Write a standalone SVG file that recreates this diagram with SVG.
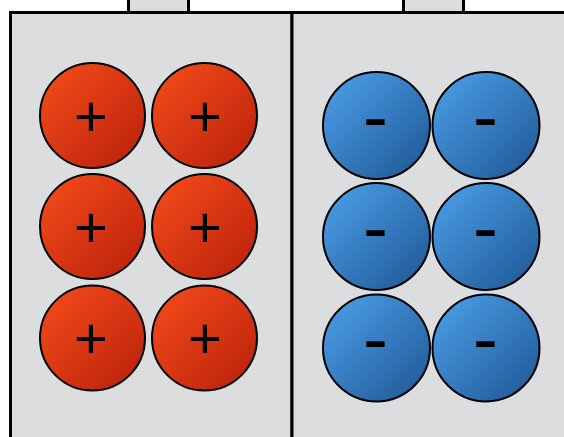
<svg xmlns="http://www.w3.org/2000/svg" width="564" height="437" viewBox="0 0 564 437">
<defs>
<linearGradient id="red" x1="0" y1="0" x2="1" y2="1">
<stop offset="0" stop-color="#f74d1b"/>
<stop offset="1" stop-color="#b8200a"/>
</linearGradient>
<linearGradient id="blue" x1="0" y1="0" x2="1" y2="1">
<stop offset="0" stop-color="#4ea2ec"/>
<stop offset="1" stop-color="#1d5592"/>
</linearGradient>
<style>
.box{fill:#dcdddf;stroke:#000;stroke-width:3}
.pos{fill:url(#red);stroke:#000;stroke-width:2}
.neg{fill:url(#blue);stroke:#000;stroke-width:2}
.p{font-family:"Liberation Sans",Arial,sans-serif;font-size:58px;text-anchor:middle;fill:#000}
.m{font-family:"Liberation Sans",Arial,sans-serif;font-size:48px;font-weight:bold;text-anchor:middle;fill:#000}
</style>
</defs>
<g id="cell-left">
<rect class="box" x="128.5" y="-10" width="60" height="22.5"/>
<rect class="box" x="10.5" y="12.5" width="281.5" height="440"/>
</g>
<g id="cell-right">
<rect class="box" x="403.5" y="-10" width="60" height="22.5"/>
<rect class="box" x="292" y="12.5" width="290" height="440"/>
</g>
<g id="pos1"><circle class="pos" cx="92.5" cy="115.5" r="52.5"/><text class="p" x="91" y="135.5">+</text></g>
<g id="pos2"><circle class="pos" cx="204.5" cy="115.5" r="52.5"/><text class="p" x="205" y="135.5">+</text></g>
<g id="pos3"><circle class="pos" cx="92.5" cy="226.5" r="52.5"/><text class="p" x="91" y="246.5">+</text></g>
<g id="pos4"><circle class="pos" cx="204.5" cy="226.5" r="52.5"/><text class="p" x="205" y="246.5">+</text></g>
<g id="pos5"><circle class="pos" cx="92.5" cy="338" r="52.5"/><text class="p" x="91" y="358">+</text></g>
<g id="pos6"><circle class="pos" cx="204.5" cy="338" r="52.5"/><text class="p" x="205" y="358">+</text></g>
<g id="neg1"><circle class="neg" cx="376.5" cy="125.5" r="53.5"/><text class="m" x="375.5" y="135" transform="translate(375.5 0) scale(1.5 1) translate(-375.5 0)">-</text></g>
<g id="neg2"><circle class="neg" cx="486" cy="125.5" r="53.5"/><text class="m" x="485.5" y="135" transform="translate(485.5 0) scale(1.5 1) translate(-485.5 0)">-</text></g>
<g id="neg3"><circle class="neg" cx="376.5" cy="236.5" r="53.5"/><text class="m" x="375.5" y="246" transform="translate(375.5 0) scale(1.5 1) translate(-375.5 0)">-</text></g>
<g id="neg4"><circle class="neg" cx="486" cy="236.5" r="53.5"/><text class="m" x="485.5" y="246" transform="translate(485.5 0) scale(1.5 1) translate(-485.5 0)">-</text></g>
<g id="neg5"><circle class="neg" cx="376.5" cy="348" r="53.5"/><text class="m" x="375.5" y="357.5" transform="translate(375.5 0) scale(1.5 1) translate(-375.5 0)">-</text></g>
<g id="neg6"><circle class="neg" cx="486" cy="348" r="53.5"/><text class="m" x="485.5" y="357.5" transform="translate(485.5 0) scale(1.5 1) translate(-485.5 0)">-</text></g>
</svg>
